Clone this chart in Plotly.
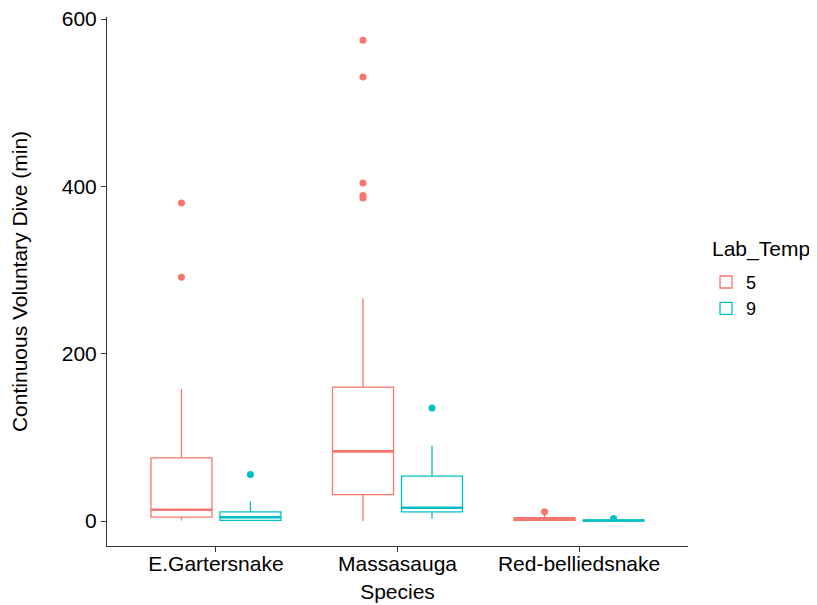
import plotly.graph_objects as go

species = ["E.Gartersnake", "Massasauga", "Red-belliedsnake"]
temps = ["5", "9"]
colors = {"5": "#F8766D", "9": "#00BFC4"}

# precomputed box statistics per temperature, in species order
q1 = {"5": [4.8, 31.7, 0.8], "9": [0.8, 11.1, 0.2]}
median = {"5": [13.5, 83.3, 2.2], "9": [4.5, 15.9, 0.6]}
q3 = {"5": [75.4, 160.0, 4.0], "9": [11.1, 53.6, 1.2]}
lowerfence = {"5": [0.8, 0.0, 0.3], "9": [0.0, 3.2, 0.0]}
upperfence = {"5": [158.0, 265.9, 8.0], "9": [23.8, 90.0, 2.0]}

# outliers
out_species = {
    "5": ["E.Gartersnake", "E.Gartersnake", "Massasauga", "Massasauga",
          "Massasauga", "Massasauga", "Massasauga", "Red-belliedsnake"],
    "9": ["E.Gartersnake", "Massasauga", "Red-belliedsnake"],
}
out_values = {
    "5": [291.3, 380.0, 574.6, 530.6, 404.0, 389.0, 386.0, 11.0],
    "9": [55.6, 135.0, 3.2],
}

FONT = "Liberation Sans, Arial"

fig = go.Figure()
for t in temps:
    fig.add_trace(go.Box(
        x=species, q1=q1[t], median=median[t], q3=q3[t],
        lowerfence=lowerfence[t], upperfence=upperfence[t],
        name=t, legendgroup=t, offsetgroup=t, alignmentgroup="a",
        boxpoints=False, whiskerwidth=0,
        line=dict(color=colors[t], width=1.3), fillcolor="white",
    ))
    # thicker median line (degenerate box at the median)
    fig.add_trace(go.Box(
        x=species, q1=median[t], median=median[t], q3=median[t],
        lowerfence=median[t], upperfence=median[t],
        name=t, legendgroup=t, offsetgroup=t, alignmentgroup="a",
        showlegend=False, boxpoints=False, whiskerwidth=0,
        line=dict(color=colors[t], width=2.6), fillcolor="rgba(0,0,0,0)",
        hoverinfo="skip",
    ))
    fig.add_trace(go.Box(
        x=out_species[t], y=out_values[t],
        name=t, legendgroup=t, offsetgroup=t, alignmentgroup="a",
        showlegend=False, boxpoints="all", jitter=0, pointpos=0,
        whiskerwidth=0, line=dict(color="rgba(0,0,0,0)", width=0),
        fillcolor="rgba(0,0,0,0)",
        marker=dict(color=colors[t], size=7, line=dict(width=0)),
    ))

axis_common = dict(
    showline=True, linecolor="#333333", linewidth=1,
    ticks="outside", ticklen=5, tickcolor="#333333",
    showgrid=False, zeroline=False, automargin=False,
    ticklabeloverflow="allow",
    tickfont=dict(size=21, color="black", family=FONT),
    title_font=dict(size=21, color="black", family=FONT),
)

fig.update_layout(
    width=817, height=605,
    margin=dict(l=99, r=137, t=9, b=67),
    paper_bgcolor="white", plot_bgcolor="white",
    boxmode="group", boxgap=0.24, boxgroupgap=0.116,
    font=dict(family=FONT, color="black", size=21),
    xaxis=dict(title=dict(text="Species", standoff=10), range=[-0.6, 2.6],
               ticklabelstandoff=-6, **axis_common),
    yaxis=dict(title=dict(text="Continuous Voluntary Dive (min)", standoff=28),
               range=[-29.8, 602.4], tickvals=[0, 200, 400, 600],
               **axis_common),
    legend=dict(
        font=dict(size=18, color="black", family=FONT),
        x=1.031, xanchor="left", y=0.5335, yanchor="top",
        bgcolor="rgba(0,0,0,0)", tracegroupgap=0,
    ),
    annotations=[dict(
        text="Lab_Temp", xref="paper", yref="paper",
        x=1.213, y=0.562, xanchor="right", yanchor="middle",
        showarrow=False, font=dict(size=21, color="black", family=FONT),
    )],
    showlegend=True,
)

fig.write_html("out.html")
